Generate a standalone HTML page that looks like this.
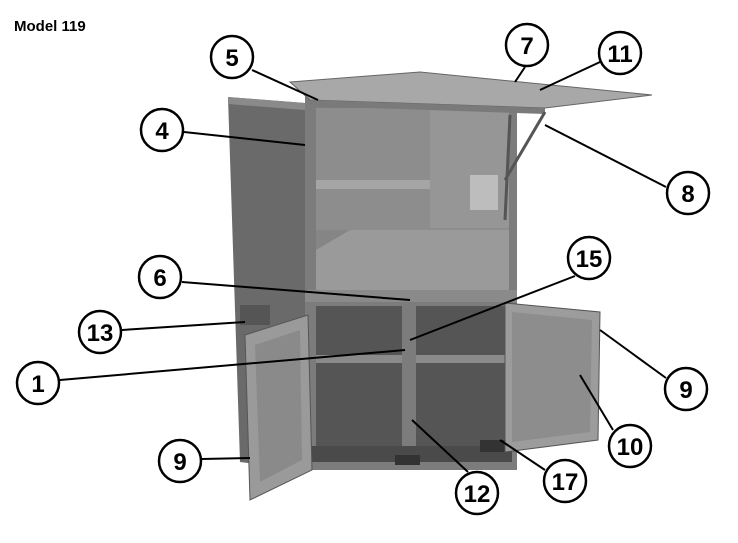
<!DOCTYPE html>
<html><head><meta charset="utf-8"><style>
html,body{margin:0;padding:0;background:#fff;}
body{width:738px;height:543px;overflow:hidden;position:relative;}
</style></head><body>
<svg width="738" height="543" viewBox="0 0 738 543" xmlns="http://www.w3.org/2000/svg" style="position:absolute;left:0;top:0">
<text x="14" y="31" font-family="Liberation Sans, sans-serif" font-weight="bold" font-size="15" fill="#000">Model 119</text>
<!-- cabinet -->
<polygon points="228,97 305,103 305,470 240,462" fill="#6a6a6a"/>
<polygon points="228,97 305,103 305,110 228,104" fill="#8a8a8a"/>
<rect x="305" y="95" width="212" height="375" fill="#7c7c7c"/>
<rect x="316" y="108" width="193" height="185" fill="#8d8d8d"/>
<polygon points="316,230 509,230 509,293 316,293" fill="#9a9a9a"/>
<polygon points="316,230 350,230 316,250" fill="#858585"/>
<rect x="316" y="180" width="193" height="9" fill="#a5a5a5"/>
<rect x="430" y="108" width="79" height="120" fill="#969696"/>
<rect x="470" y="175" width="28" height="35" fill="#bdbdbd"/>
<rect x="305" y="290" width="212" height="12" fill="#8a8a8a"/>
<!-- lid -->
<polygon points="290,82 420,72 652,95 545,108 310,100" fill="#a8a8a8" stroke="#666" stroke-width="1"/>
<polygon points="310,100 545,108 545,114 310,106" fill="#7a7a7a"/>
<line x1="510" y1="115" x2="505" y2="220" stroke="#555" stroke-width="3"/>
<line x1="545" y1="112" x2="505" y2="180" stroke="#555" stroke-width="3"/>
<!-- lower compartment -->
<rect x="316" y="306" width="189" height="140" fill="#555"/>
<rect x="316" y="355" width="189" height="8" fill="#8a8a8a"/>
<rect x="402" y="306" width="14" height="140" fill="#7c7c7c"/>
<rect x="300" y="446" width="212" height="16" fill="#4a4a4a"/>
<rect x="395" y="455" width="25" height="10" fill="#333"/>
<rect x="480" y="440" width="25" height="12" fill="#333"/>
<!-- doors -->
<polygon points="245,335 308,315 312,470 250,500" fill="#9a9a9a" stroke="#555" stroke-width="1"/>
<polygon points="255,345 300,330 302,460 260,482" fill="#8a8a8a"/>
<polygon points="505,303 600,312 598,440 505,452" fill="#9c9c9c" stroke="#555" stroke-width="1"/>
<polygon points="512,312 592,320 590,432 512,442" fill="#8d8d8d"/>
<rect x="240" y="305" width="30" height="20" fill="#555"/>
<!-- leaders -->
<g stroke="#000" stroke-width="2" fill="none">
<line x1="252" y1="70" x2="318" y2="100"/>
<line x1="525" y1="67" x2="515" y2="82"/>
<line x1="600" y1="62" x2="540" y2="90"/>
<line x1="184" y1="132" x2="305" y2="145"/>
<line x1="666" y1="187" x2="545" y2="125"/>
<line x1="575" y1="276" x2="410" y2="340"/>
<line x1="182" y1="282" x2="410" y2="300"/>
<line x1="122" y1="330" x2="245" y2="322"/>
<line x1="60" y1="380" x2="405" y2="350"/>
<line x1="666" y1="378" x2="600" y2="330"/>
<line x1="613" y1="430" x2="580" y2="375"/>
<line x1="202" y1="459" x2="250" y2="458"/>
<line x1="468" y1="472" x2="412" y2="420"/>
<line x1="545" y1="470" x2="500" y2="440"/>
</g>
<g stroke="#000" stroke-width="2.5" fill="#fff">
<circle cx="232" cy="57" r="21"/><circle cx="527" cy="45" r="21"/><circle cx="620" cy="53" r="21"/>
<circle cx="162" cy="130" r="21"/><circle cx="688" cy="193" r="21"/><circle cx="589" cy="258" r="21"/>
<circle cx="160" cy="277" r="21"/><circle cx="100" cy="332" r="21"/><circle cx="38" cy="383" r="21"/>
<circle cx="686" cy="389" r="21"/><circle cx="630" cy="446" r="21"/><circle cx="180" cy="461" r="21"/>
<circle cx="477" cy="493" r="21"/><circle cx="565" cy="481" r="21"/>
</g>
<g font-family="Liberation Sans, sans-serif" font-weight="bold" font-size="24" text-anchor="middle" fill="#000">
<text x="232" y="66">5</text><text x="527" y="54">7</text><text x="620" y="62">11</text>
<text x="162" y="139">4</text><text x="688" y="202">8</text><text x="589" y="267">15</text>
<text x="160" y="286">6</text><text x="100" y="341">13</text><text x="38" y="392">1</text>
<text x="686" y="398">9</text><text x="630" y="455">10</text><text x="180" y="470">9</text>
<text x="477" y="502">12</text><text x="565" y="490">17</text>
</g>
</svg>
</body></html>
